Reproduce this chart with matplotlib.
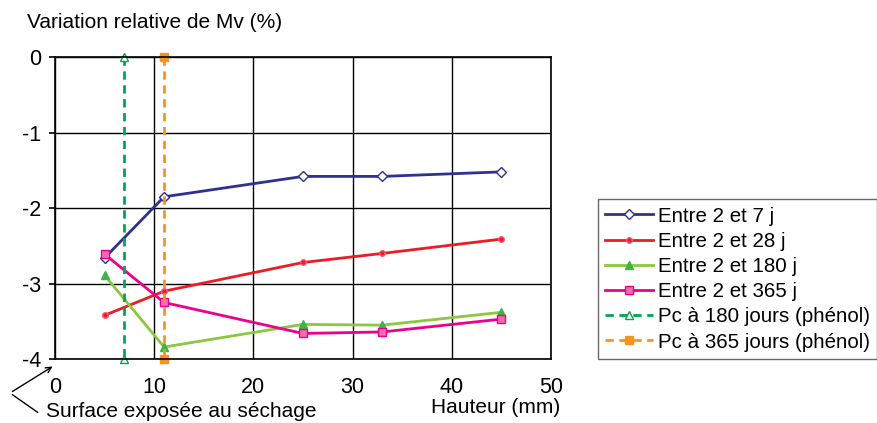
import matplotlib
matplotlib.use("Agg")
import matplotlib.pyplot as plt

plt.rcParams['font.family'] = ['Liberation Sans', 'DejaVu Sans']
plt.rcParams['axes.unicode_minus'] = False

# hauteur (mm)
hauteur = [5, 11, 25, 33, 45]
entre_7 = [-2.66, -1.85, -1.58, -1.58, -1.52]
entre_28 = [-3.42, -3.10, -2.72, -2.60, -2.41]
entre_180 = [-2.89, -3.84, -3.54, -3.55, -3.38]
entre_365 = [-2.61, -3.25, -3.66, -3.64, -3.47]

# front de carbonatation (phénol)
pc_180_x = [7, 7]
pc_365_x = [11, 11]
pc_y = [0, -4]

fig = plt.figure(figsize=(8.77, 4.23), dpi=100)
ax = fig.add_axes([0.0627, 0.151, 0.5655, 0.714])

ax.plot(hauteur, entre_7, color='#2e3192', lw=2, marker='D', ms=5,
        mfc='white', mec='#2e3192', mew=1, label='Entre 2 et 7 j')
ax.plot(hauteur, entre_28, color='#ed1c24', lw=2, marker='o', ms=4,
        mfc='#ed1c24', mec='#f05a7a', label='Entre 2 et 28 j')
ax.plot(hauteur, entre_180, color='#8dc63f', lw=2, marker='^', ms=6,
        mfc='#39b54a', mec='#39b54a', label='Entre 2 et 180 j')
ax.plot(hauteur, entre_365, color='#ec008c', lw=2, marker='s', ms=5.5,
        mfc='#f06eaa', mec='#ec008c', label='Entre 2 et 365 j')
ax.plot(pc_180_x, pc_y, color='#00a651', lw=2, ls=(0, (3, 2)), marker='^', ms=6,
        mfc='white', mec='#00a651', clip_on=False, label='Pc à 180 jours (phénol)')
ax.plot(pc_365_x, pc_y, color='#f7941d', lw=2, ls=(0, (3, 2)), marker='s', ms=6,
        mfc='#f7941d', mec='#f7941d', clip_on=False, label='Pc à 365 jours (phénol)')

ax.set_xlim(0, 50)
ax.set_ylim(-4, 0)
ax.set_xticks(range(0, 51, 10))
ax.set_yticks([0, -1, -2, -3, -4])
ax.grid(True, color='black', lw=1)
ax.set_axisbelow(True)
for s in ax.spines.values():
    s.set_linewidth(1.2)
ax.tick_params(axis='y', length=4, width=1.2, labelsize=15.5, pad=6)
ax.tick_params(axis='x', length=0, labelsize=15.5, pad=13)

fig.text(27 / 877, 1 - 22 / 423, 'Variation relative de Mv (%)', fontsize=15, ha='left', va='center')
fig.text(560 / 877, 1 - 407 / 423, 'Hauteur (mm)', fontsize=15, ha='right', va='center')
fig.text(46 / 877, 1 - 411 / 423, 'Surface exposée au séchage', fontsize=15, ha='left', va='center')

# flèche vers la surface exposée
ax.annotate('', xy=(55, 423 - 365), xytext=(10, 423 - 393), xycoords='figure pixels',
            textcoords='figure pixels',
            arrowprops=dict(arrowstyle='->', color='black', lw=1))
ax.annotate('', xy=(10, 423 - 393), xytext=(40, 423 - 414), xycoords='figure pixels',
            textcoords='figure pixels',
            arrowprops=dict(arrowstyle='-', color='black', lw=1))

leg = ax.legend(loc='center left', bbox_to_anchor=(1.095, 0.265), fontsize=14.8,
                frameon=True, fancybox=False, edgecolor='#444444', handlelength=2.3,
                handletextpad=0.25, labelspacing=0.3, borderpad=0.35, borderaxespad=0)
leg.get_frame().set_linewidth(1)

fig.savefig('out.png', dpi=100)
